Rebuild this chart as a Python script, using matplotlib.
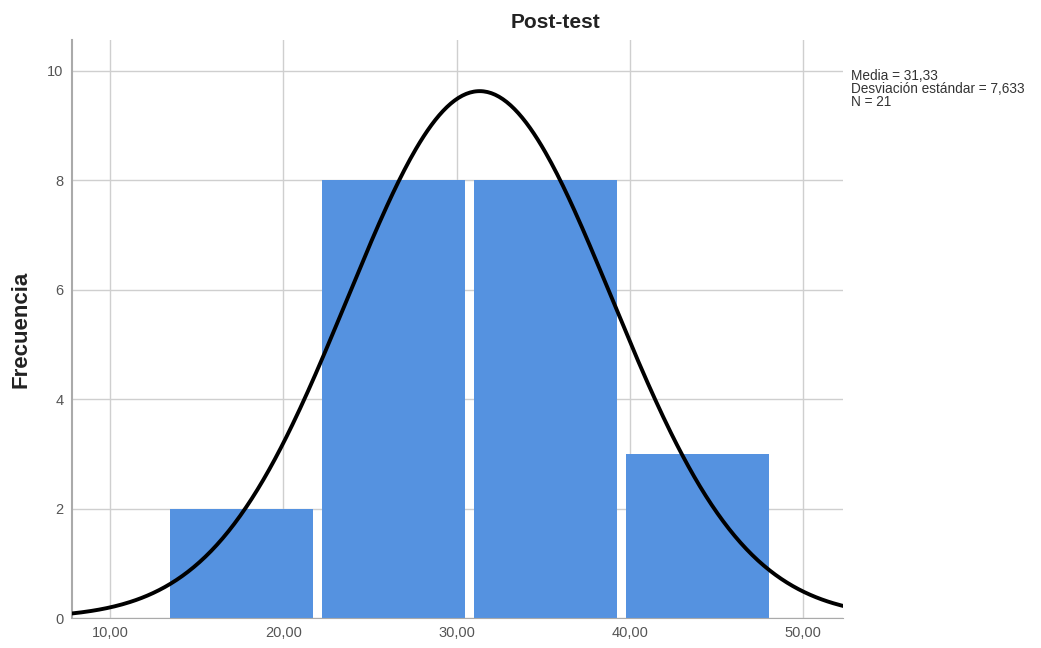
import numpy as np
import matplotlib.pyplot as plt

plt.rcParams['font.family'] = ['Liberation Sans', 'DejaVu Sans']

# histogram
bin_edges = [13.19, 21.96, 30.73, 39.50, 48.27]
counts = [2, 8, 8, 3]
media = 31.33
desv = 7.633
n = 21
xticks = [10, 20, 30, 40, 50]
xtick_labels = ['10,00', '20,00', '30,00', '40,00', '50,00']
yticks = [0, 2, 4, 6, 8, 10]

fig = plt.figure(figsize=(10.41, 6.48), dpi=100)
ax = fig.add_axes([72 / 1041, 30 / 648, 771 / 1041, 578 / 648])

edges = np.array(bin_edges)
widths = np.diff(edges)
centers = edges[:-1] + widths / 2
gap = 0.52
ax.bar(centers, counts, width=widths - gap, color='#5592e0', zorder=2)

# normal curve scaled to the histogram
w = widths.mean()
xs = np.linspace(7.8, 52.3, 400)
ys = n * w * np.exp(-0.5 * ((xs - media) / desv) ** 2) / (desv * np.sqrt(2 * np.pi))
ax.plot(xs, ys, color='black', lw=2.8, zorder=3)

ax.set_xlim(7.8, 52.3)
ax.set_ylim(0, 10.56)
ax.set_xticks(xticks)
ax.set_xticklabels(xtick_labels)
ax.set_yticks(yticks)
ax.tick_params(length=0, labelsize=10.5, colors='#555555', pad=6)
ax.grid(True, color='#cfcfcf', lw=1, zorder=0)
ax.set_axisbelow(True)
for s in ['top', 'right']:
    ax.spines[s].set_visible(False)
ax.spines['left'].set_color('#aaaaaa')
ax.spines['left'].set_linewidth(1.5)
ax.spines['bottom'].set_color('#aaaaaa')

fig.text(555 / 1041, 1 - 23 / 648, 'Post-test', ha='center', va='center',
         fontsize=15, fontweight='bold', color='#222222')
fig.text(21 / 1041, 1 - 329 / 648, 'Frecuencia', ha='center', va='center',
         rotation=90, fontsize=16, fontweight='bold', color='#222222')
fig.text(851 / 1041, 1 - 69 / 648,
         'Media = 31,33\nDesviación estándar = 7,633\nN = 21',
         ha='left', va='top', fontsize=9.8, color='#333333', linespacing=0.92)

plt.savefig('out.png', dpi=100)
